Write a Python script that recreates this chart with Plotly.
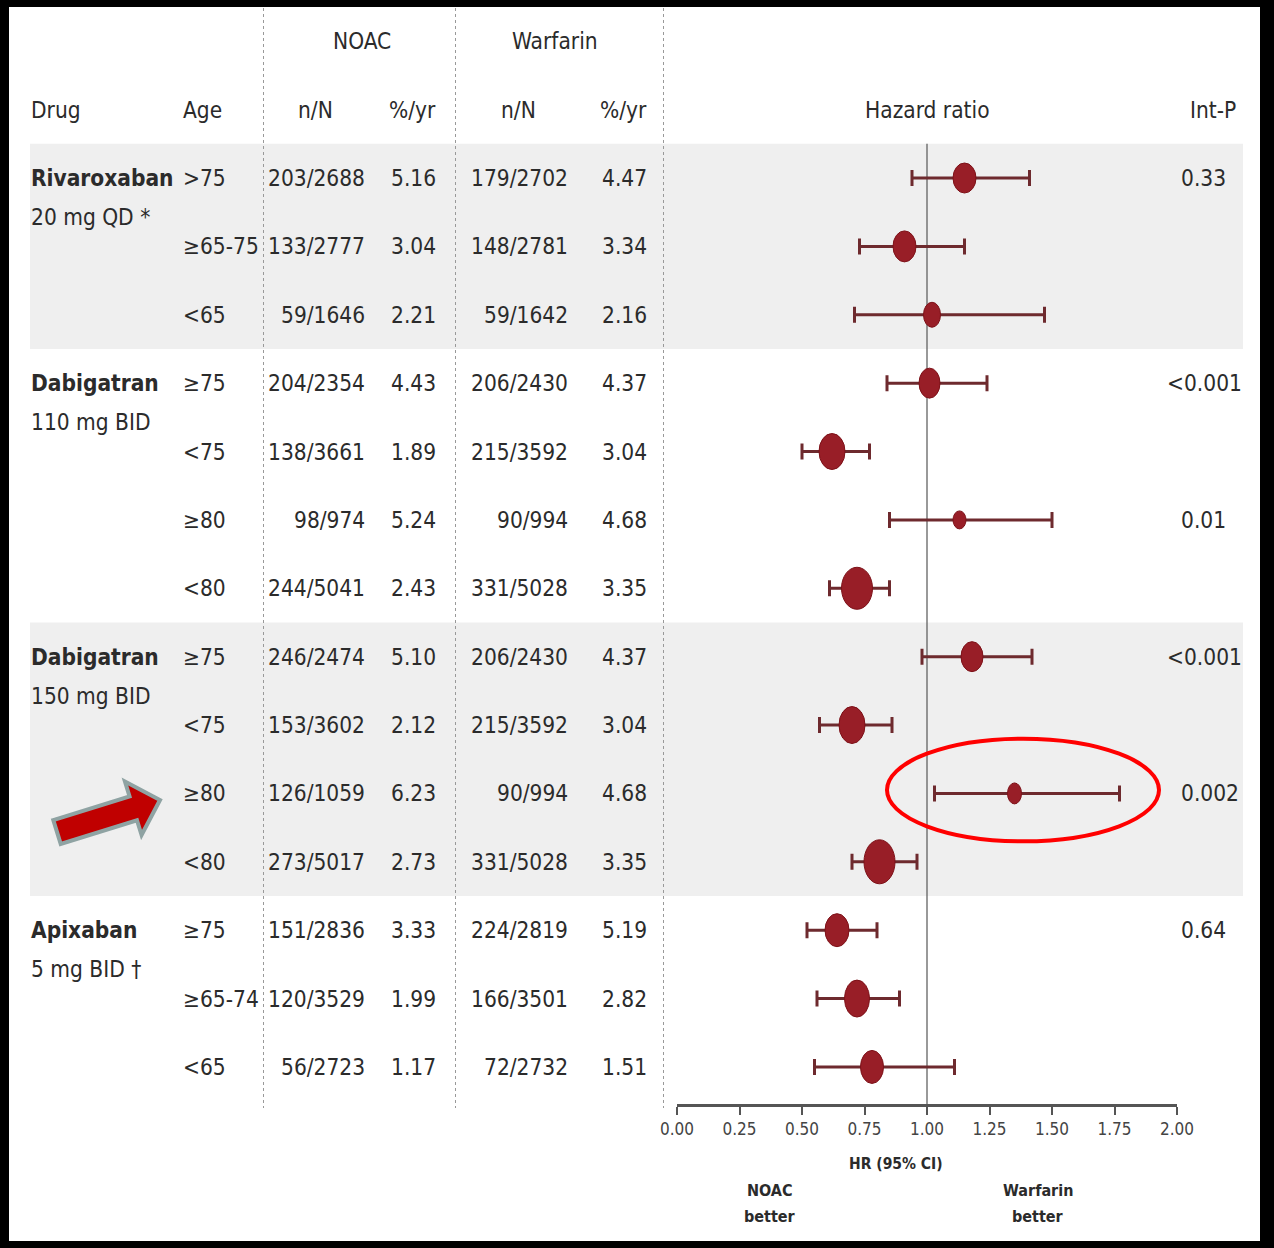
import math
import plotly.graph_objects as go

# ---------------- data ----------------
drug_names = ["Rivaroxaban", "Dabigatran", "Dabigatran", "Apixaban"]
drug_doses = ["20 mg QD *", "110 mg BID", "150 mg BID", "5 mg BID †"]
group_sizes = [3, 4, 4, 3]

age_groups = [">75", "≥65-75", "<65",
              "≥75", "<75", "≥80", "<80",
              "≥75", "<75", "≥80", "<80",
              "≥75", "≥65-74", "<65"]
noac_events = ["203/2688", "133/2777", "59/1646",
               "204/2354", "138/3661", "98/974", "244/5041",
               "246/2474", "153/3602", "126/1059", "273/5017",
               "151/2836", "120/3529", "56/2723"]
noac_rate = ["5.16", "3.04", "2.21",
             "4.43", "1.89", "5.24", "2.43",
             "5.10", "2.12", "6.23", "2.73",
             "3.33", "1.99", "1.17"]
warf_events = ["179/2702", "148/2781", "59/1642",
               "206/2430", "215/3592", "90/994", "331/5028",
               "206/2430", "215/3592", "90/994", "331/5028",
               "224/2819", "166/3501", "72/2732"]
warf_rate = ["4.47", "3.34", "2.16",
             "4.37", "3.04", "4.68", "3.35",
             "4.37", "3.04", "4.68", "3.35",
             "5.19", "2.82", "1.51"]
hr = [1.15, 0.91, 1.02, 1.01, 0.62, 1.13, 0.72,
      1.18, 0.70, 1.35, 0.81, 0.64, 0.72, 0.78]
hr_lo = [0.94, 0.73, 0.71, 0.84, 0.50, 0.85, 0.61,
         0.98, 0.57, 1.03, 0.70, 0.52, 0.56, 0.55]
hr_hi = [1.41, 1.15, 1.47, 1.24, 0.77, 1.50, 0.85,
         1.42, 0.86, 1.77, 0.96, 0.80, 0.89, 1.11]
int_p = ["0.33", "", "", "<0.001", "", "0.01", "",
         "<0.001", "", "0.002", "", "0.64", "", ""]
hr_ticks = [0.0, 0.25, 0.5, 0.75, 1.0, 1.25, 1.5, 1.75, 2.0]
highlight_row = 9

# ---------------- styling ----------------
W, H = 1274, 1248
FONT = "DejaVu Sans Condensed, Liberation Sans Narrow, sans-serif"
TEXT = "#2b2b2b"
BAND = "#efefef"
DOT = "#981e27"
CI = "#6e2a2e"
FS = 22.5

# row geometry (pixels from top)
ROW0, ROW_STEP = 178.0, 68.38
# forest axis geometry (pixels)
AX_X0, AX_X1, AX_Y = 677.0, 1177.0, 1105.0
PX_PER_HR = (AX_X1 - AX_X0) / 2.0

# dot sizes in pixels (width, height) – weight of each estimate
dot_w = [23, 23, 17, 21, 26, 13, 31, 22, 26, 14, 31, 24, 25, 23]
dot_h = [30, 31, 25, 30, 36, 18, 42, 30, 37, 21, 44, 33, 37, 33]


def row_of(py):
    return (py - ROW0) / ROW_STEP


def px(x):
    return x / W


def py_paper(y):
    return 1 - y / H


rows = list(range(len(age_groups)))
ann = []


def label(x, row, text, anchor="left", size=FS, bold=False, color=TEXT):
    ann.append(dict(
        x=px(x), xref="paper", y=row, yref="y",
        text=f"<b>{text}</b>" if bold else text,
        showarrow=False, xanchor=anchor, yanchor="middle", borderpad=0,
        font=dict(family=FONT, size=size, color=color)))


# ---------------- table text ----------------
label(362, -2, "NOAC", "center")
label(555, -2, "Warfarin", "center")
label(30, -1, "Drug")
label(182, -1, "Age")
label(315, -1, "n/N", "center")
label(437, -1, "%/yr", "right")
label(518, -1, "n/N", "center")
label(648, -1, "%/yr", "right")
label(927, -1, "Hazard ratio", "center")
label(1237, -1, "Int-P", "right")

start = 0
group_starts = []
for name, dose, n in zip(drug_names, drug_doses, group_sizes):
    group_starts.append(start)
    label(30, start, name, bold=True)
    label(30, start + 0.57, dose)
    start += n

for i in rows:
    label(182, i, age_groups[i])
    label(366, i, noac_events[i], "right")
    label(437, i, noac_rate[i], "right")
    label(569, i, warf_events[i], "right")
    label(648, i, warf_rate[i], "right")
    if int_p[i]:
        x0 = 1180 - (14 if int_p[i].startswith("<") else 0)
        label(x0, i, int_p[i])

# labels under the hazard-ratio axis
label(896, row_of(1164), "HR (95% CI)", "center", size=15.5, bold=True)
for xc, words in ((770, ("NOAC", "better")), (1038, ("Warfarin", "better"))):
    label(xc, row_of(1190), words[0], "center", size=16, bold=True)
    label(xc, row_of(1216), words[1], "center", size=16, bold=True)

# ---------------- shapes ----------------
shapes = []
# shaded groups (1st and 3rd drug)
for g in (0, 2):
    s = group_starts[g]
    shapes.append(dict(type="rect", xref="paper", yref="y", layer="below",
                       x0=px(30), x1=px(1243), y0=s - 0.5, y1=s + group_sizes[g] - 0.5,
                       fillcolor=BAND, line=dict(width=0)))
# dotted column separators
for xs in (263.5, 455.5, 663.5):
    shapes.append(dict(type="line", xref="paper", yref="paper", layer="below",
                       x0=px(xs), x1=px(xs), y0=py_paper(8), y1=py_paper(1108),
                       line=dict(color="#999999", width=1, dash="dot")))
# line of no effect
shapes.append(dict(type="line", xref="x", yref="y", layer="below",
                   x0=1.0, x1=1.0, y0=-0.5, y1=row_of(AX_Y),
                   line=dict(color="#555555", width=1.2)))
# point estimates as filled ellipses
for i in rows:
    rx = dot_w[i] / 2 / PX_PER_HR
    ry = dot_h[i] / 2 / ROW_STEP
    shapes.append(dict(type="circle", xref="x", yref="y", layer="above",
                       x0=hr[i] - rx, x1=hr[i] + rx, y0=i - ry, y1=i + ry,
                       fillcolor=DOT, line=dict(color="#7d1118", width=1)))
# highlight ellipse around the 150 mg >=80 estimate
shapes.append(dict(type="circle", xref="x", yref="y", layer="above",
                   x0=0.84, x1=1.928, y0=highlight_row - 0.8, y1=highlight_row + 0.7,
                   line=dict(color="#ff0000", width=4)))

# pointer arrow toward the highlighted age row
tail, tip = (57.0, 832.0), (160.0, 800.0)
L = math.hypot(tip[0] - tail[0], tip[1] - tail[1])
ux, uy = (tip[0] - tail[0]) / L, (tip[1] - tail[1]) / L
nx, ny = -uy, ux
sw, hw, hl = 12.5, 28.0, 28.0
bx, by = tip[0] - hl * ux, tip[1] - hl * uy
pts = [(tail[0] - sw * nx, tail[1] - sw * ny), (bx - sw * nx, by - sw * ny),
       (bx - hw * nx, by - hw * ny), tip, (bx + hw * nx, by + hw * ny),
       (bx + sw * nx, by + sw * ny), (tail[0] + sw * nx, tail[1] + sw * ny)]
path = "M " + " L ".join(f"{px(x):.5f},{py_paper(y):.5f}" for x, y in pts) + " Z"
shapes.append(dict(type="path", xref="paper", yref="paper", layer="above", path=path,
                   fillcolor="#c00000", line=dict(color="#8fa3a3", width=4)))

# black frame
for x0, x1, y0, y1 in ((0, W, 0, 7), (0, W, 1241, H), (0, 9, 0, H), (1260, W, 0, H)):
    shapes.append(dict(type="rect", xref="paper", yref="paper", layer="above",
                       x0=px(x0), x1=px(x1), y0=py_paper(y1), y1=py_paper(y0),
                       fillcolor="#000000", line=dict(width=0)))

# ---------------- traces ----------------
fig = go.Figure()
fig.add_trace(go.Scatter(
    x=hr, y=rows, mode="markers",
    marker=dict(size=2, color="rgba(0,0,0,0)"),
    error_x=dict(type="data", symmetric=False,
                 array=[h - m for h, m in zip(hr_hi, hr)],
                 arrayminus=[m - lo for m, lo in zip(hr, hr_lo)],
                 color=CI, thickness=3, width=8),
    hoverinfo="skip", showlegend=False))

fig.update_layout(
    width=W, height=H, autosize=False,
    margin=dict(l=0, r=0, t=0, b=0, pad=0, autoexpand=False),
    paper_bgcolor="white", plot_bgcolor="rgba(0,0,0,0)",
    showlegend=False,
    xaxis=dict(domain=[px(AX_X0), px(AX_X1)], range=[0, 2], anchor="free",
               position=py_paper(AX_Y), tickvals=hr_ticks, tickformat=".2f",
               showgrid=False, zeroline=False, showline=True, automargin=False,
               linecolor="#555555", linewidth=3, ticks="outside", ticklen=8,
               tickwidth=2, tickcolor="#555555",
               tickfont=dict(family=FONT, size=17, color="#444444")),
    yaxis=dict(domain=[0, 1], range=[row_of(H), row_of(0)], visible=False,
               automargin=False),
    shapes=shapes, annotations=ann,
)

fig.write_html("out.html")
